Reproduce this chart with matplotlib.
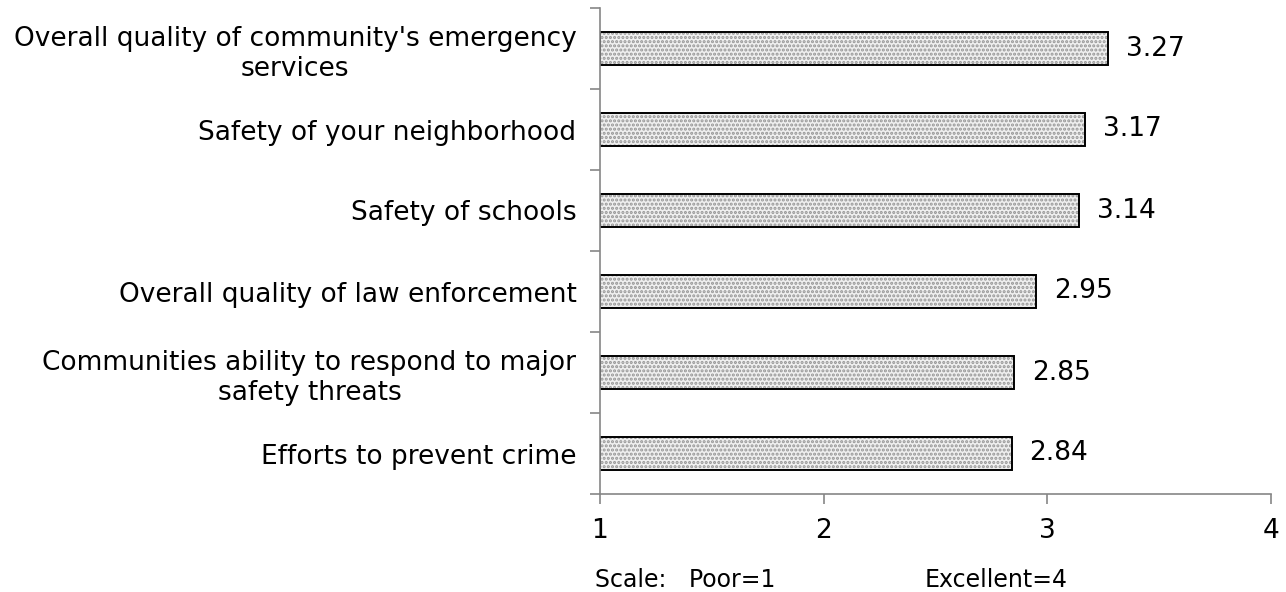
import matplotlib.pyplot as plt

categories = [
    "Overall quality of community's emergency\nservices",
    "Safety of your neighborhood",
    "Safety of schools",
    "Overall quality of law enforcement",
    "Communities ability to respond to major\nsafety threats",
    "Efforts to prevent crime",
]
scores = [3.27, 3.17, 3.14, 2.95, 2.85, 2.84]
x_ticks = [1, 2, 3, 4]

plt.rcParams["hatch.linewidth"] = 1.5

fig = plt.figure(figsize=(12.86, 5.92), dpi=100)
ax = fig.add_axes([600 / 1286, 98 / 592, 671 / 1286, 486 / 592])

ypos = list(range(len(categories)))
widths = [s - 1 for s in scores]
# dotted fill first (hatch takes the edge colour), then the black outline on top
ax.barh(ypos, widths, left=1, height=0.41, color="#efefef",
        edgecolor="#959595", linewidth=0, hatch="....")
ax.barh(ypos, widths, left=1, height=0.41, fill=False,
        edgecolor="black", linewidth=1.4)

for y, s in zip(ypos, scores):
    ax.annotate(f"{s:.2f}", (s, y), xytext=(13, 0), textcoords="offset points",
                va="center", ha="left", fontsize=19)

ax.set_xlim(1, 4)
ax.set_ylim(len(categories) - 0.5, -0.5)
ax.set_xticks(x_ticks)
ax.set_xticklabels([str(t) for t in x_ticks], fontsize=19)
ax.set_yticks(ypos)
ax.set_yticklabels(categories, fontsize=19, ha="right", multialignment="center")
ax.tick_params(axis="y", length=0, pad=17)
ax.set_yticks([i - 0.5 for i in range(len(categories) + 1)], minor=True)
ax.tick_params(axis="y", which="minor", length=7, color="#868686", width=1.2)
ax.tick_params(axis="x", length=7, color="#868686", width=1.2, pad=10)

for side in ["top", "right"]:
    ax.spines[side].set_visible(False)
for side in ["left", "bottom"]:
    ax.spines[side].set_color("#868686")
    ax.spines[side].set_linewidth(1.2)

fig.text(595 / 1286, 1 - 580 / 592, "Scale:   Poor=1", fontsize=17, va="center", ha="left")
fig.text(925 / 1286, 1 - 580 / 592, "Excellent=4", fontsize=17, va="center", ha="left")

fig.savefig("out.png", dpi=100)
